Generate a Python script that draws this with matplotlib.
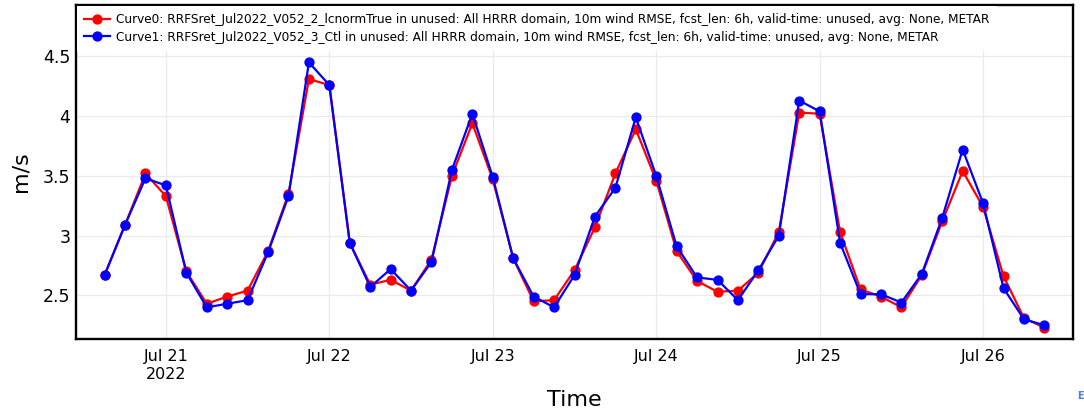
import numpy as np
import pandas as pd
import matplotlib
matplotlib.use("Agg")
import matplotlib.pyplot as plt
import matplotlib.dates as mdates
from matplotlib.ticker import FuncFormatter

# valid times, every 3 h
times = pd.date_range("2022-07-20 15:00", "2022-07-26 09:00", freq="3h")

# 10m wind RMSE (m/s)
curve0 = [2.67, 3.09, 3.52, 3.33, 2.70, 2.43, 2.49, 2.54, 2.87, 3.35,
          4.31, 4.26, 2.94, 2.59, 2.63, 2.54, 2.80, 3.50, 3.94, 3.47,
          2.81, 2.45, 2.46, 2.71, 3.07, 3.52, 3.89, 3.46, 2.87, 2.62,
          2.53, 2.54, 2.69, 3.03, 4.03, 4.02, 3.03, 2.55, 2.49, 2.40,
          2.67, 3.12, 3.54, 3.24, 2.66, 2.31, 2.23]
curve1 = [2.67, 3.09, 3.48, 3.42, 2.69, 2.40, 2.43, 2.46, 2.86, 3.33,
          4.45, 4.26, 2.94, 2.57, 2.72, 2.54, 2.78, 3.55, 4.02, 3.49,
          2.81, 2.49, 2.40, 2.67, 3.16, 3.40, 3.99, 3.50, 2.91, 2.65,
          2.63, 2.46, 2.71, 3.00, 4.13, 4.04, 2.94, 2.51, 2.51, 2.44,
          2.68, 3.15, 3.72, 3.27, 2.56, 2.30, 2.25]

label0 = ("Curve0: RRFSret_Jul2022_V052_2_lcnormTrue in unused: All HRRR domain, "
          "10m wind RMSE, fcst_len: 6h, valid-time: unused, avg: None, METAR")
label1 = ("Curve1: RRFSret_Jul2022_V052_3_Ctl in unused: All HRRR domain, "
          "10m wind RMSE, fcst_len: 6h, valid-time: unused, avg: None, METAR")

y_ticks = [2.5, 3, 3.5, 4, 4.5]

plt.rcParams["font.family"] = ["DejaVu Sans"]

fig = plt.figure(figsize=(10.84, 4.11), dpi=100)
W, H = 1084, 411
ax = fig.add_axes([76 / W, (H - 339) / H, (1073 - 76) / W, (339 - 5) / H])

ax.plot(times, curve0, color="#ff0000", lw=1.6, marker="o", ms=6.4, label=label0, zorder=3)
ax.plot(times, curve1, color="#0000ff", lw=1.6, marker="o", ms=6.4, label=label1, zorder=4)

pad = pd.Timedelta(hours=4.2)
ax.set_xlim(times[0] - pad, times[-1] + pad)
ax.set_ylim(2.135, 4.93)

ax.set_yticks(y_ticks)
ax.yaxis.set_major_formatter(FuncFormatter(lambda v, p: f"{v:g}"))
ax.xaxis.set_major_locator(mdates.DayLocator())


def day_label(x, pos):
    d = mdates.num2date(x)
    s = d.strftime("%b ") + str(d.day)
    if pos == 0:
        s += "\n" + str(d.year)
    return s


ax.xaxis.set_major_formatter(FuncFormatter(day_label))
ax.tick_params(axis="y", length=0, pad=4, labelsize=12.5)
ax.tick_params(axis="x", length=0, pad=7, labelsize=11.5)
for t in ax.get_xticklabels():
    t.set_linespacing(1.25)

ax.grid(True, color="#ebebeb", lw=0.9)
ax.set_axisbelow(True)
for s in ax.spines.values():
    s.set_linewidth(1.7)
    s.set_color("black")

leg = ax.legend(loc="upper left", bbox_to_anchor=(0, 1), borderaxespad=0.05,
                fontsize=8.7, frameon=True, framealpha=1, edgecolor="none",
                facecolor="white", fancybox=False, handlelength=2.2,
                handletextpad=0.45, labelspacing=0.4, borderpad=0.6)
leg.set_zorder(5)

fig.text(20 / W, (H - 172) / H, "m/s", rotation=90, ha="center", va="center", fontsize=16)
fig.text(574.5 / W, (H - 406) / H, "Time", ha="center", va="baseline", fontsize=16)
fig.text(1077 / W, (H - 399) / H, "E", ha="left", va="baseline", fontsize=7,
         color="#4a7fd4", fontweight="bold")

fig.savefig("out.png", dpi=100)
